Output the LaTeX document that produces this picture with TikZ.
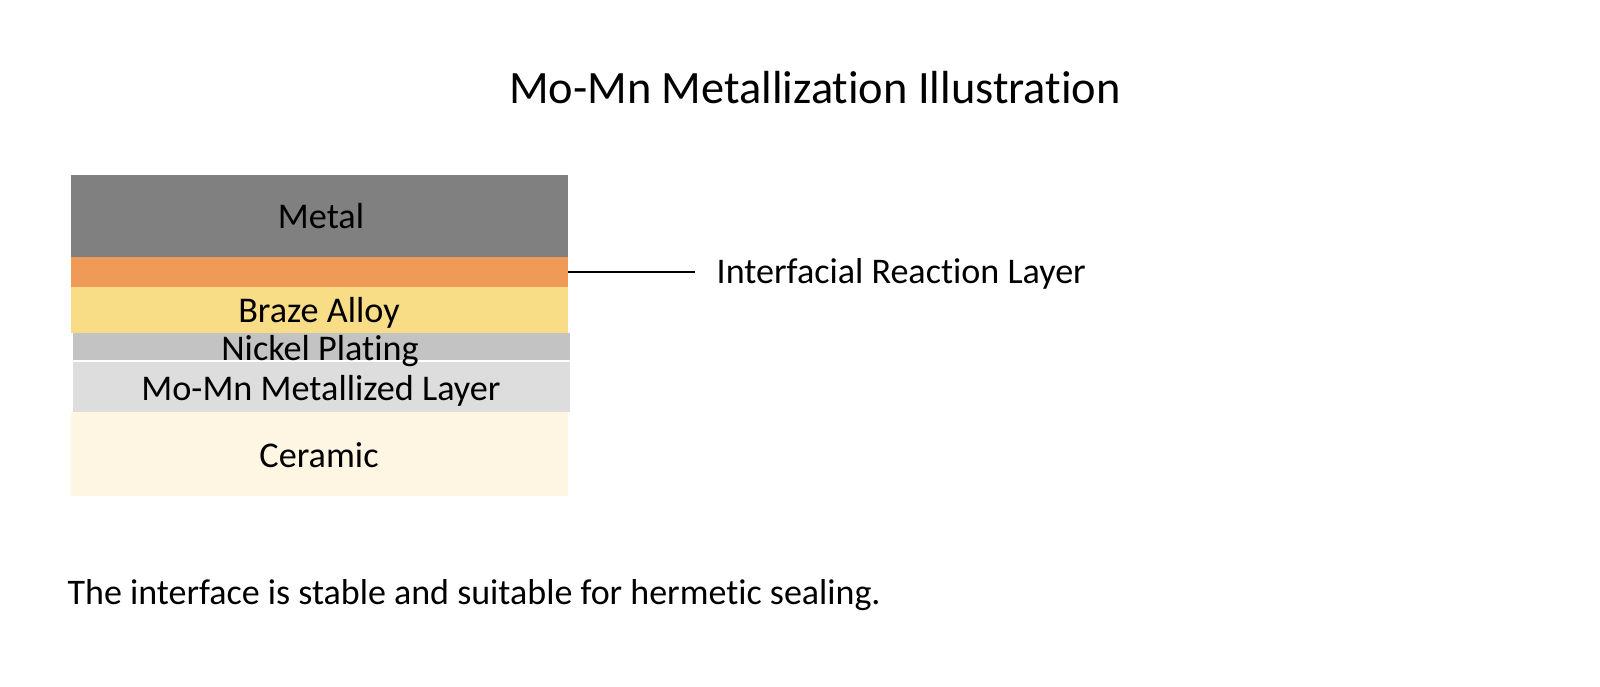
\documentclass[tikz,border=0pt]{standalone}
\usepackage{fontspec}
\setmainfont{Carlito}[Ligatures=NoCommon]
\usepackage{tikz}
\usetikzlibrary{shapes,arrows}
\usetikzlibrary{calc}
\definecolor{metalgray}{HTML}{808080}
\definecolor{reactorange}{HTML}{EF9A57}
\definecolor{brazeyellow}{HTML}{F8DC86}
\definecolor{nickelgray}{HTML}{C3C3C3}
\definecolor{momngray}{HTML}{DDDDDD}
\definecolor{ceramiccream}{HTML}{FEF5E3}
\tikzstyle{layerblock} = [rectangle, minimum width=4.97cm, inner sep=0pt, outer sep=0pt]
\tikzstyle{layertext} = [font=\fontsize{10.3}{12}\selectfont, anchor=base, inner sep=0pt]
\tikzstyle{line} = [draw, line width=0.7pt]

\begin{document}
\begin{tikzpicture}
    \useasboundingbox (0,0) rectangle (16,-6.86);
    \node [font=\fontsize{13.2}{16}\selectfont] (title) at (8.15,-0.88) {Mo-Mn Metallization Illustration};
    % Layers, top to bottom
    \node [layerblock, fill=metalgray, minimum height=0.82cm] (metal) at (3.195,-2.16) {};
    \node [layerblock, fill=reactorange, minimum height=0.30cm] (reaction) at (3.195,-2.72) {};
    \node [layerblock, fill=brazeyellow, minimum height=0.46cm] (braze) at (3.195,-3.10) {};
    \node [layerblock, fill=nickelgray, minimum height=0.27cm] (nickel) at (3.215,-3.465) {};
    \node [layerblock, fill=momngray, minimum height=0.50cm] (momn) at (3.215,-3.87) {};
    \node [layerblock, fill=ceramiccream, minimum height=0.84cm] (ceramic) at (3.195,-4.54) {};
    % Layer names
    \node [layertext] (metaltxt) at (3.21,-2.28) {Metal};
    \node [layertext] (brazetxt) at (3.19,-3.22) {Braze Alloy};
    \node [layertext] (nickeltxt) at (3.20,-3.60) {Nickel Plating};
    \node [layertext] (momntxt) at (3.21,-4.00) {Mo-Mn Metallized Layer};
    \node [layertext] (ceramictxt) at (3.19,-4.67) {Ceramic};
    % Callout
    \coordinate (callout) at (6.95,-2.72);
    \path[line] (reaction.east) -- (callout);
    \node [anchor=base west, inner sep=0pt, font=\fontsize{10.27}{12}\selectfont] (reactiontxt) at (7.16,-2.83) {Interfacial Reaction Layer};
    \node [anchor=base west, inner sep=0pt, font=\fontsize{10.24}{12}\selectfont] (note) at (0.67,-6.04) {The interface is stable and suitable for hermetic sealing.};
\end{tikzpicture}
\end{document}
